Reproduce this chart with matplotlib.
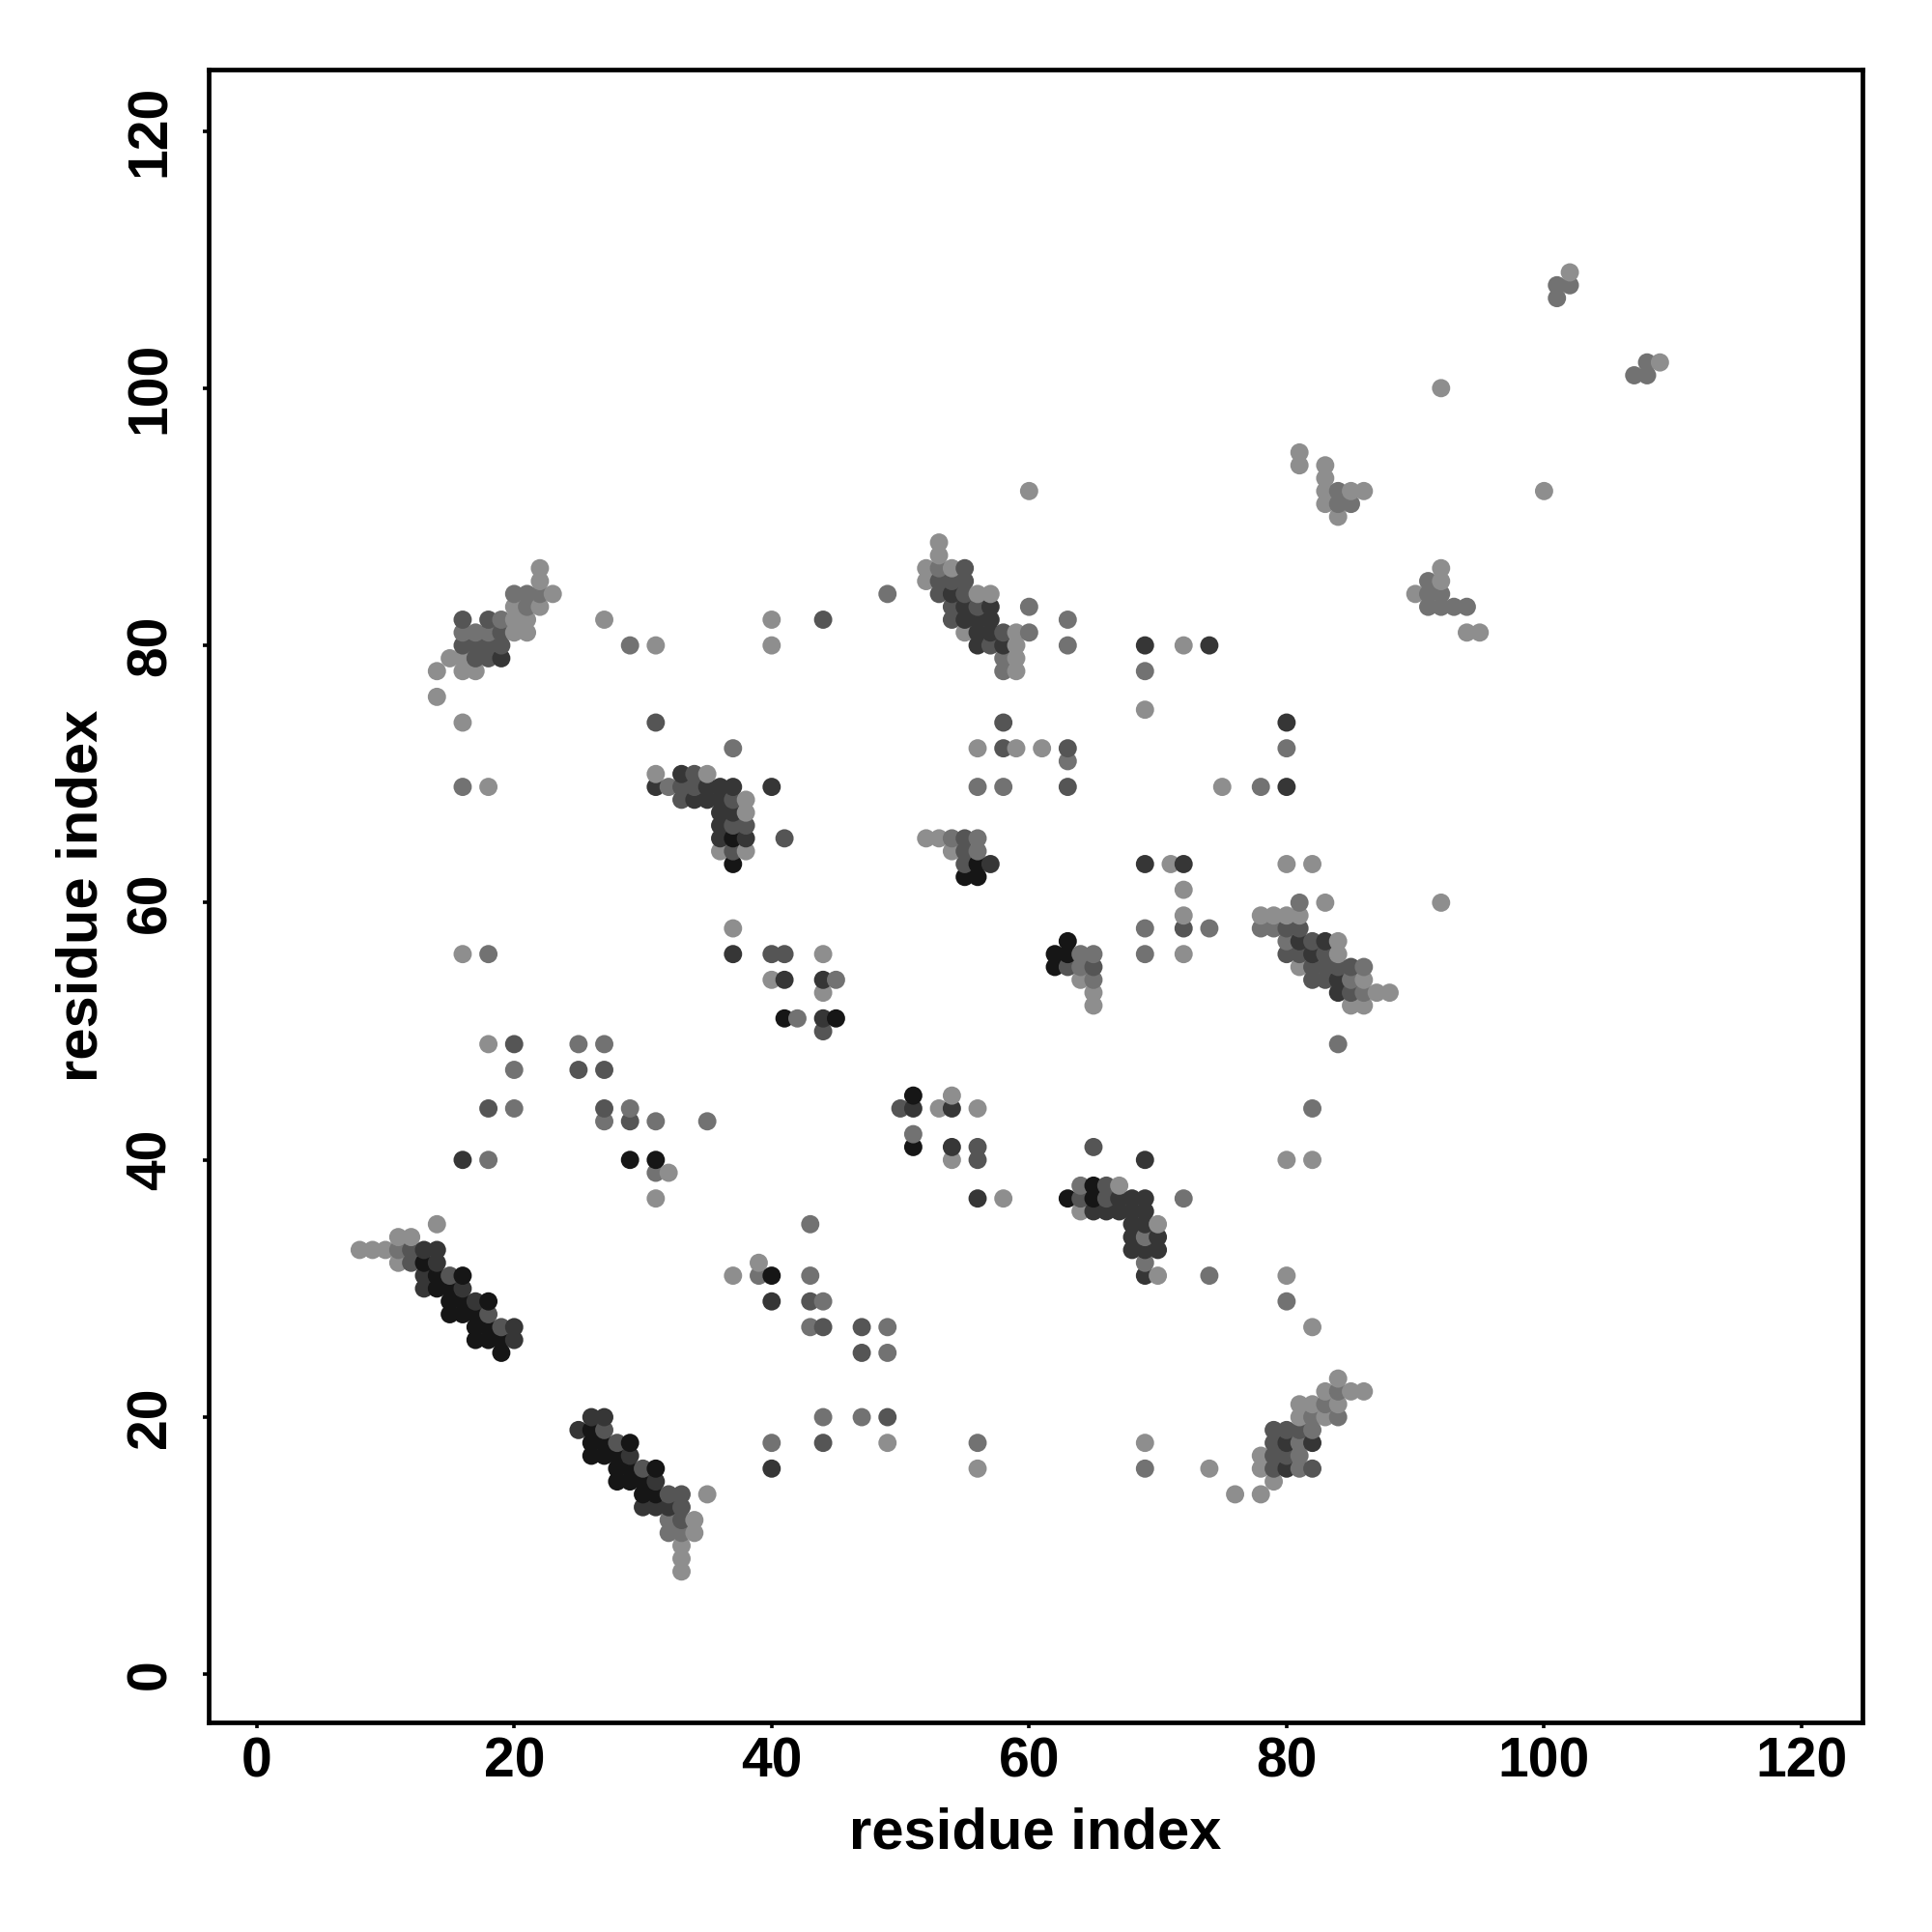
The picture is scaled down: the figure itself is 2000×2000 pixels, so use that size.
import matplotlib
matplotlib.use("Agg")
import matplotlib.pyplot as plt

# ---------------------------------------------------------------------------
# Contact map: (residue i, residue j) pairs, grouped by grey shade
# ---------------------------------------------------------------------------
LIGHT = [
    (14, 35), (11, 34), (12, 34), (8, 33), (9, 33), (10, 33), (11, 32),
    (35, 14), (34, 12), (34, 11), (33, 10), (33, 9), (33, 8),
    (39, 32), (37, 31), (49, 18), (56, 16),
    (67, 38), (64, 36), (70, 35), (70, 31), (80, 40), (82, 40), (80, 31), (82, 27),
    (84, 23), (83, 22), (85, 22), (86, 22), (81, 21), (82, 21), (84, 21), (81, 20),
    (83, 20), (69, 18), (78, 17), (74, 16), (78, 16), (79, 15), (76, 14), (78, 14),
    (16, 56), (18, 49), (32, 39), (31, 37),
    (37, 58), (44, 56), (40, 54), (44, 53), (54, 45), (53, 44), (56, 44), (54, 40), (58, 37),
    (64, 54), (65, 53), (65, 52),
    (71, 63), (72, 61), (72, 59), (72, 56),
    (83, 60), (78, 59), (79, 59), (80, 59), (81, 59), (84, 57), (84, 56), (81, 55),
    (86, 54), (87, 53), (88, 53), (85, 52), (86, 52), (80, 63), (82, 63), (92, 60),
    (52, 65), (53, 65), (54, 64),
    (31, 70), (35, 70), (38, 68), (38, 67), (36, 64), (38, 64),
    (53, 88), (53, 87), (52, 86), (54, 86), (52, 85), (56, 84), (57, 84), (40, 82),
    (55, 81), (59, 81), (40, 80), (59, 80), (59, 79), (59, 78),
    (60, 92), (72, 80), (69, 75), (61, 72), (56, 72), (59, 72), (75, 69),
    (22, 86), (22, 85), (23, 84), (20, 83), (22, 83), (20, 82), (21, 82), (27, 82),
    (20, 81), (21, 81), (31, 80), (15, 79), (16, 79), (14, 78), (16, 78), (17, 78),
    (14, 76), (16, 74), (18, 69),
    (81, 95), (81, 94), (83, 94), (83, 93), (83, 92), (85, 92), (86, 92), (83, 91), (84, 90),
    (92, 86), (92, 85), (90, 84), (94, 81), (95, 81), (92, 100), (100, 92),
    (102, 109), (109, 102),
]

MEDIUM = [
    (11, 33), (32, 12), (32, 11), (33, 11),
    (43, 35), (39, 31), (43, 31), (44, 29), (43, 27), (49, 27), (49, 25), (44, 20),
    (47, 20), (40, 18), (56, 18),
    (82, 44), (64, 38), (72, 37), (69, 34), (69, 32), (74, 31), (80, 29),
    (84, 22), (83, 21), (82, 20), (84, 20), (82, 19), (81, 18), (81, 17), (69, 16), (81, 16),
    (18, 56), (25, 49), (27, 49), (20, 47), (20, 44), (29, 44), (27, 43), (31, 43),
    (35, 43), (18, 40), (31, 39),
    (45, 54), (42, 51), (51, 42),
    (64, 56), (65, 56), (64, 55), (65, 54),
    (69, 58), (74, 58), (69, 56),
    (81, 60), (78, 58), (79, 58), (80, 57), (86, 55), (85, 54), (86, 53), (84, 49),
    (54, 65), (56, 65), (56, 64),
    (37, 72), (32, 69),
    (53, 86), (49, 84), (60, 83), (60, 81), (58, 79), (58, 78),
    (63, 82), (63, 80), (69, 78), (80, 72), (63, 71), (78, 69), (56, 69), (58, 69),
    (20, 84), (21, 84), (22, 84), (21, 83), (19, 82), (16, 81), (17, 81), (18, 81),
    (29, 80), (16, 69),
    (84, 92), (84, 91), (85, 91), (91, 85), (91, 84), (92, 84), (91, 83), (92, 83),
    (93, 83), (94, 83),
    (101, 108), (102, 108), (101, 107), (108, 102), (107, 101), (108, 101),
]

DARK = [
    (12, 33), (12, 32), (15, 31), (18, 28), (19, 27),
    (27, 19), (28, 18), (30, 16), (32, 14), (33, 14), (33, 13), (33, 12),
    (43, 29), (44, 27), (47, 27), (47, 25), (49, 20), (44, 18),
    (65, 41), (66, 38), (64, 37), (66, 37),
    (79, 19), (80, 19), (81, 19), (79, 18), (79, 17), (80, 17), (79, 16), (82, 16),
    (20, 49), (25, 47), (27, 47), (18, 44), (27, 44), (29, 43),
    (40, 56), (41, 56), (44, 50), (50, 44), (56, 41), (56, 40),
    (63, 55), (65, 55),
    (72, 58),
    (80, 58), (81, 58), (82, 57), (80, 56), (81, 56), (83, 56), (82, 55), (83, 55),
    (84, 55), (85, 55), (82, 54), (83, 54), (85, 53),
    (55, 65), (55, 64), (55, 63),
    (34, 70), (33, 69), (34, 69), (33, 68), (37, 68), (37, 66), (38, 66), (41, 65), (37, 64),
    (55, 86), (53, 85), (54, 85), (55, 85), (53, 84), (55, 84), (54, 83), (56, 83),
    (44, 82), (54, 82), (58, 81), (57, 80),
    (58, 74), (58, 72), (63, 72), (63, 69),
    (16, 82), (18, 82), (19, 81), (16, 80), (17, 80), (18, 80), (19, 80), (17, 79),
    (18, 79), (31, 74),
]

VDARK = [
    (13, 33), (14, 33), (14, 32), (13, 31), (13, 30), (16, 30), (17, 29), (20, 27), (20, 26),
    (26, 20), (27, 20), (25, 19), (29, 17), (31, 15), (30, 13), (31, 13), (32, 13),
    (40, 29), (40, 16),
    (69, 40), (67, 37), (68, 37), (69, 37), (65, 36), (66, 36), (67, 36), (68, 36),
    (69, 36), (68, 35), (69, 35), (68, 34), (70, 34), (68, 33), (69, 33), (70, 33), (69, 31),
    (80, 18), (82, 18), (80, 16),
    (16, 40),
    (37, 56), (41, 54), (44, 54), (44, 51), (51, 44), (54, 44), (54, 41), (56, 37),
    (69, 63), (72, 63),
    (81, 57), (83, 57), (82, 56), (84, 54), (84, 53),
    (57, 63),
    (33, 70), (31, 69), (35, 69), (36, 69), (37, 69), (40, 69), (34, 68), (35, 68),
    (36, 68), (36, 67), (37, 67), (36, 66), (36, 65), (38, 65),
    (54, 84), (55, 83), (57, 83), (55, 82), (56, 82), (57, 82), (56, 81), (57, 81),
    (56, 80), (58, 80),
    (69, 80), (74, 80), (80, 74), (80, 69),
    (19, 79),
]

BLACK = [
    (13, 32), (14, 31), (16, 31), (14, 30), (15, 30), (15, 29), (16, 29), (18, 29),
    (15, 28), (16, 28), (17, 28), (17, 27), (18, 27), (17, 26), (18, 26), (19, 26), (19, 25),
    (26, 19), (26, 18), (27, 18), (29, 18), (26, 17), (27, 17), (28, 17), (28, 16),
    (29, 16), (31, 16), (28, 15), (29, 15), (30, 15), (30, 14), (31, 14),
    (40, 31),
    (65, 38), (63, 37), (65, 37),
    (29, 40), (31, 40),
    (41, 51), (45, 51), (51, 45), (51, 41),
    (63, 57), (62, 56), (63, 56), (62, 55),
    (56, 63), (55, 62), (56, 62),
    (37, 65), (37, 63),
]

SHADES = {
    "#8e8e8e": LIGHT,
    "#727272": MEDIUM,
    "#555555": DARK,
    "#363636": VDARK,
    "#161616": BLACK,
}

TICKS = [0, 20, 40, 60, 80, 100, 120]

# ---------------------------------------------------------------------------
# Plot (points drawn in (i, j) order, later pairs on top)
# ---------------------------------------------------------------------------
plt.rcParams["font.family"] = ["Liberation Sans", "DejaVu Sans"]
plt.rcParams["font.weight"] = "bold"

pts = []
for col, lst in SHADES.items():
    pts += [(i, j, col) for i, j in lst]
pts.sort(key=lambda p: (p[0], p[1]))

fig = plt.figure(figsize=(20, 20), dpi=100)
ax = fig.add_axes([0.108, 0.1085, 0.8558, 0.8557])

ax.scatter([p[0] for p in pts], [p[1] for p in pts], c=[p[2] for p in pts],
           s=185, linewidths=0, zorder=3)

ax.set_xlim(-3.73, 124.7)
ax.set_ylim(-3.73, 124.8)
ax.set_xticks(TICKS)
ax.set_yticks(TICKS)
for sp in ax.spines.values():
    sp.set_linewidth(3.4)
ax.tick_params(axis="both", direction="out", length=4.5, width=2.6, labelsize=41)
ax.tick_params(axis="x", pad=6)
ax.tick_params(axis="y", pad=19)
for lab in ax.get_yticklabels():
    lab.set_rotation(90)
    lab.set_va("center")
for lab in ax.get_xticklabels() + ax.get_yticklabels():
    lab.set_fontweight("bold")

ax.set_xlabel("residue index", fontsize=43, fontweight="bold")
ax.set_ylabel("residue index", fontsize=43, fontweight="bold")
ax.xaxis.set_label_coords(0.5, -0.067)
ax.xaxis.label.set_verticalalignment("center")
ax.yaxis.set_label_coords(-0.0765, 0.5)
ax.yaxis.label.set_verticalalignment("center")

fig.savefig("out.png", dpi=100)
